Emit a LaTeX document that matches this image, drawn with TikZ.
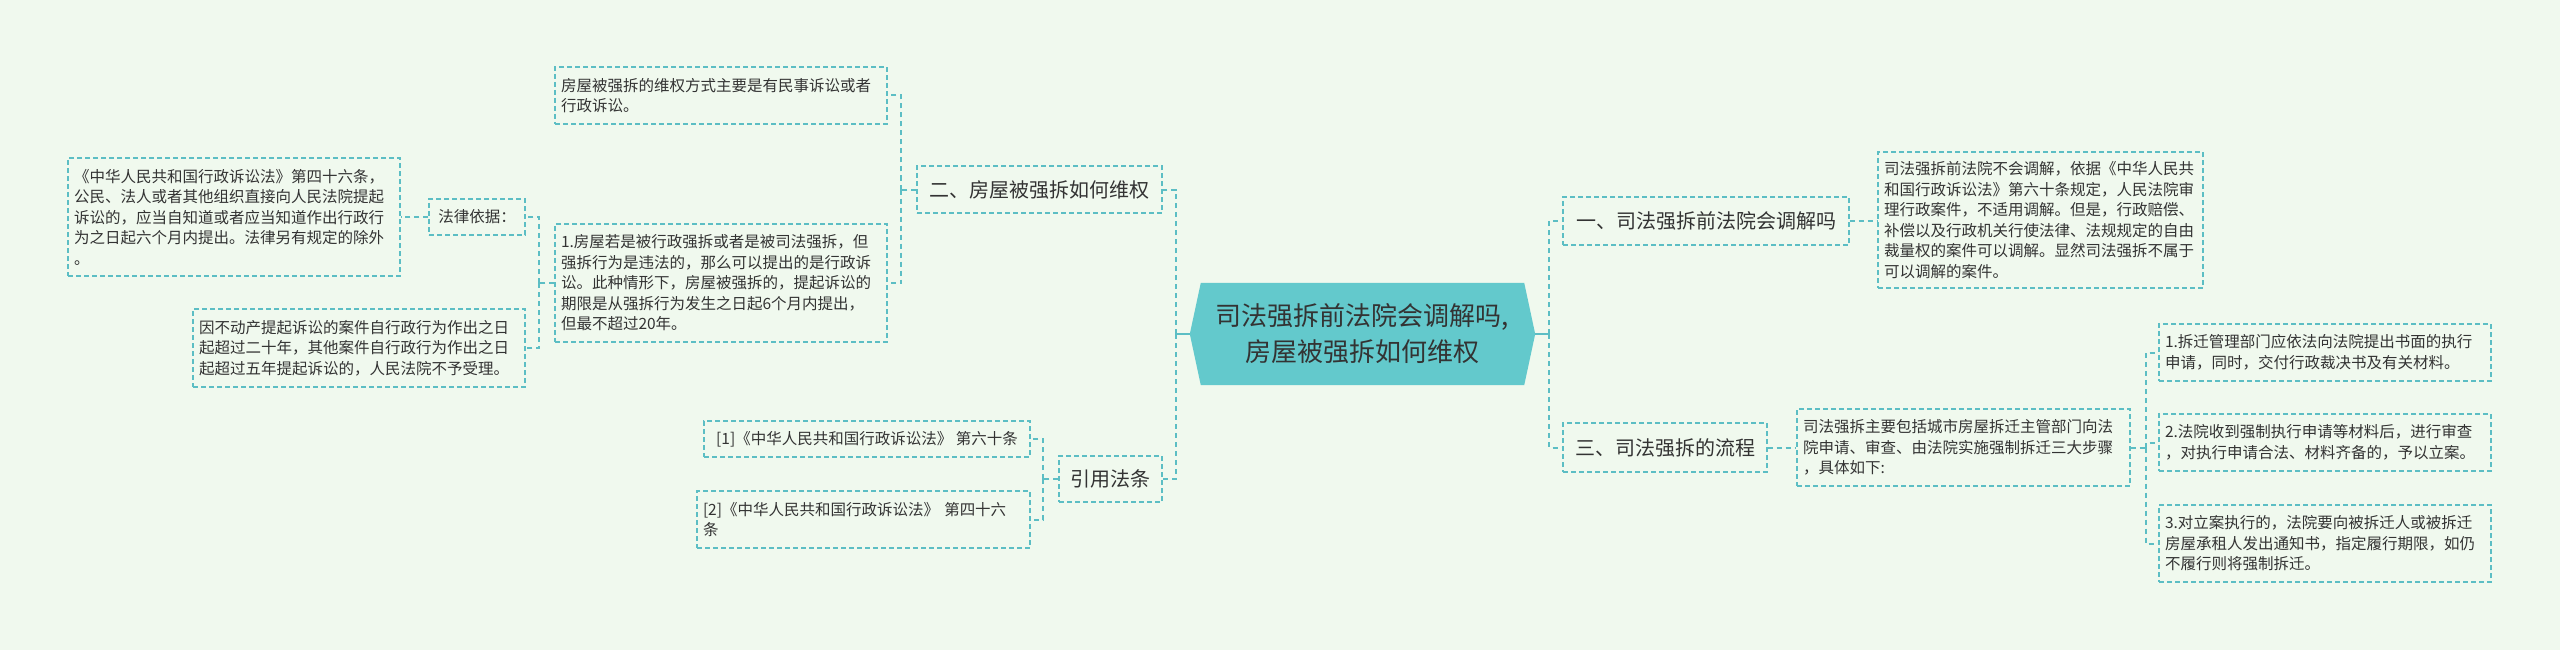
\documentclass[tikz,border=0pt]{standalone}
\usepackage{fontspec}
\setmainfont{Noto Sans CJK SC}
\usepackage{tikz}
\usetikzlibrary{backgrounds}
\definecolor{bg}{RGB}{240,249,238}
\definecolor{tl}{RGB}{92,190,196}
\definecolor{hubfill}{RGB}{99,201,204}
\definecolor{ink}{RGB}{51,51,51}
\newcommand{\hubcut}{11pt}

\begin{document}
\begin{tikzpicture}[x=1pt,y=-1pt,
	box/.style={draw=tl,line width=1.2pt,dash pattern=on 5pt off 3pt,
		text=ink,inner xsep=6pt,inner ysep=0pt,align=left},
	leaf/.style={box,font=\fontsize{15.5}{20.5}\selectfont},
	topic/.style={box,font=\fontsize{20}{24}\selectfont,align=center},
	hub/.style={minimum width=345pt,minimum height=102pt,inner sep=0pt,
		align=center,text=ink,font=\fontsize{26}{36}\selectfont},
	link/.style={draw=tl,line width=2pt,dash pattern=on 5pt off 4pt},
	stub/.style={draw=tl,line width=2pt},
	]
	
	% centre
	\node[hub] (ctr) at (1362.5,334) {司法强拆前法院会调解吗,\\房屋被强拆如何维权};
	
	% right branch
	\node[topic,minimum width=286pt,minimum height=48pt] (one) at (1706,221) {一、司法强拆前法院会调解吗};
	\node[leaf,text width=313pt,minimum height=136pt] (oneTxt) at (2040.5,220)
		{司法强拆前法院不会调解，依据《中华人民共\\和国行政诉讼法》第六十条规定，人民法院审\\理行政案件，不适用调解。但是，行政赔偿、\\补偿以及行政机关行使法律、法规规定的自由\\裁量权的案件可以调解。显然司法强拆不属于\\可以调解的案件。};
	\node[topic,minimum width=204pt,minimum height=49pt] (three) at (1665,447.5) {三、司法强拆的流程};
	\node[leaf,text width=321pt,minimum height=77pt] (threeTxt) at (1963.5,447.5)
		{司法强拆主要包括城市房屋拆迁主管部门向法\\院申请、审查、由法院实施强制拆迁三大步骤\\，具体如下:};
	\node[leaf,text width=320pt,minimum height=57pt] (stepA) at (2325,352.5)
		{1.拆迁管理部门应依法向法院提出书面的执行\\申请，同时，交付行政裁决书及有关材料。};
	\node[leaf,text width=320pt,minimum height=57pt] (stepB) at (2325,442.5)
		{2.法院收到强制执行申请等材料后，进行审查\\，对执行申请合法、材料齐备的，予以立案。};
	\node[leaf,text width=320pt,minimum height=77pt] (stepC) at (2325,543.5)
		{3.对立案执行的，法院要向被拆迁人或被拆迁\\房屋承租人发出通知书，指定履行期限，如仍\\不履行则将强制拆迁。};
	
	% left branch
	\node[topic,minimum width=245pt,minimum height=47pt] (two) at (1039.5,189.5) {二、房屋被强拆如何维权};
	\node[leaf,text width=320pt,minimum height=57pt] (wayA) at (721,95.5)
		{房屋被强拆的维权方式主要是有民事诉讼或者\\行政诉讼。};
	\node[leaf,text width=320pt,minimum height=118pt] (wayB) at (721,283)
		{1.房屋若是被行政强拆或者是被司法强拆，但\\强拆行为是违法的，那么可以提出的是行政诉\\讼。此种情形下，房屋被强拆的，提起诉讼的\\期限是从强拆行为发生之日起6个月内提出，\\但最不超过20年。};
	\node[leaf,minimum width=96pt,minimum height=36pt] (basis) at (477,217) {法律依据：};
	\node[leaf,text width=320pt,minimum height=118pt] (law46) at (234,217)
		{《中华人民共和国行政诉讼法》第四十六条，\\公民、法人或者其他组织直接向人民法院提起\\诉讼的，应当自知道或者应当知道作出行政行\\为之日起六个月内提出。法律另有规定的除外\\。};
	\node[leaf,text width=320pt,minimum height=78pt] (limit) at (359,348)
		{因不动产提起诉讼的案件自行政行为作出之日\\起超过二十年，其他案件自行政行为作出之日\\起超过五年提起诉讼的，人民法院不予受理。};
	\node[topic,minimum width=103pt,minimum height=46pt] (cite) at (1110.5,479) {引用法条};
	\node[leaf,minimum width=326pt,minimum height=36pt] (citeA) at (867,439)
		{[1]《中华人民共和国行政诉讼法》 第六十条};
	\node[leaf,text width=321pt,minimum height=57pt] (citeB) at (863.5,519.5)
		{[2]《中华人民共和国行政诉讼法》 第四十六\\条};
	
	% connectors
	\draw[stub] (ctr.east) -- ++(14,0) coordinate (rt);
	\foreach \c in {one,three} \draw[link] (rt) |- (\c.west);
	\draw[link] (one.east) -- (one.east -| oneTxt.west);
	\draw[link] (three.east) -- (three.east -| threeTxt.west);
	\draw[link] (threeTxt.east) -- ++(15,0) coordinate (st);
	\foreach \c in {stepA,stepB,stepC} \draw[link] (st) |- (\c.west);
	
	\draw[stub] (ctr.west) -- ++(-14,0) coordinate (lt);
	\foreach \c in {two,cite} \draw[link] (lt) |- (\c.east);
	\draw[link] (two.west) -- ++(-15,0) coordinate (tw);
	\foreach \c in {wayA,wayB} \draw[link] (tw) |- (\c.east);
	\draw[link] (wayB.west) -- ++(-15,0) coordinate (bw);
	\foreach \c in {basis,limit} \draw[link] (bw) |- (\c.east);
	\draw[link] (basis.west) -- (basis.west -| law46.east);
	\draw[link] (cite.west) -- ++(-15,0) coordinate (cw);
	\foreach \c in {citeA,citeB} \draw[link] (cw) |- (\c.east);
	
	\begin{scope}[on background layer]
		\fill[bg] (0,0) rectangle (2560,650);
		\fill[hubfill] ([xshift=\hubcut]ctr.north west) -- ([xshift=-\hubcut]ctr.north east)
			-- (ctr.east) -- ([xshift=-\hubcut]ctr.south east)
			-- ([xshift=\hubcut]ctr.south west) -- (ctr.west) -- cycle;
	\end{scope}
\end{tikzpicture}
\end{document}
